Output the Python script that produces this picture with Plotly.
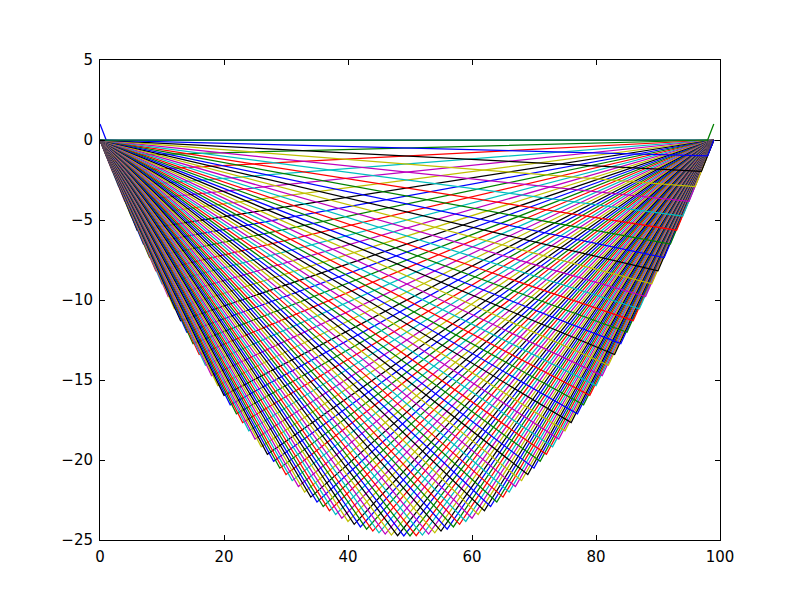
import plotly.graph_objects as go

# one line per column; each is a straight-line tent with its corner at (peak_x, peak_y)
peak_x = list(range(100))
peak_y = [1.0,
          -0.99, -1.96, -2.91, -3.84, -4.75, -5.64, -6.51, -7.35, -8.18, -8.99,
          -9.78, -10.55, -11.29, -12.02, -12.73, -13.41, -14.08, -14.73, -15.35, -15.96,
          -16.55, -17.11, -17.66, -18.18, -18.69, -19.17, -19.64, -20.08, -20.51, -20.91,
          -21.29, -21.66, -22.00, -22.32, -22.63, -22.91, -23.17, -23.41, -23.64, -23.84,
          -24.02, -24.18, -24.32, -24.44, -24.55, -24.63, -24.69, -24.73, -24.75,
          -24.75, -24.73, -24.69, -24.63, -24.55, -24.44, -24.32, -24.18, -24.02,
          -23.84, -23.64, -23.41, -23.17, -22.91, -22.63, -22.32, -22.00, -21.66, -21.29,
          -20.91, -20.51, -20.08, -19.64, -19.17, -18.69, -18.18, -17.66, -17.11, -16.55,
          -15.96, -15.35, -14.73, -14.08, -13.41, -12.73, -12.02, -11.29, -10.55, -9.78,
          -8.99, -8.18, -7.35, -6.51, -5.64, -4.75, -3.84, -2.91, -1.96, -0.99,
          1.0]
x_ticks = [0, 20, 40, 60, 80, 100]
y_ticks = [-25, -20, -15, -10, -5, 0, 5]

colors = ['#0000ff', '#008000', '#ff0000', '#00bfbf', '#bf00bf', '#bfbf00', '#000000']
last = peak_x[-1]

fig = go.Figure()
for i, (px, py) in enumerate(zip(peak_x, peak_y)):
    if px == 0:
        xs, ys = [0, 1, last], [py, 0, 0]
    elif px == last:
        xs, ys = [0, last - 1, last], [0, 0, py]
    else:
        xs, ys = [0, px, last], [0, py, 0]
    fig.add_trace(go.Scatter(x=xs, y=ys, mode='lines',
                             line=dict(color=colors[i % 7], width=1.25),
                             showlegend=False, hoverinfo='skip'))

axis_style = dict(showgrid=False, zeroline=False, showline=True, linecolor='black',
                  linewidth=1, mirror='ticks', ticks='inside', ticklen=5,
                  tickcolor='black', ticklabelstandoff=3,
                  tickfont=dict(family='DejaVu Sans', size=15, color='black'))
fig.update_xaxes(range=[0, 100], tickvals=x_ticks, **axis_style)
fig.update_yaxes(range=[-25, 5], tickvals=y_ticks, **axis_style)
# page body adds 8px, so margins are trimmed to land the box at 100..720 x 60..540
fig.update_layout(width=800, height=600, plot_bgcolor='white', paper_bgcolor='white',
                  margin=dict(l=92, r=88, t=52, b=68))
fig.write_html("out.html")
